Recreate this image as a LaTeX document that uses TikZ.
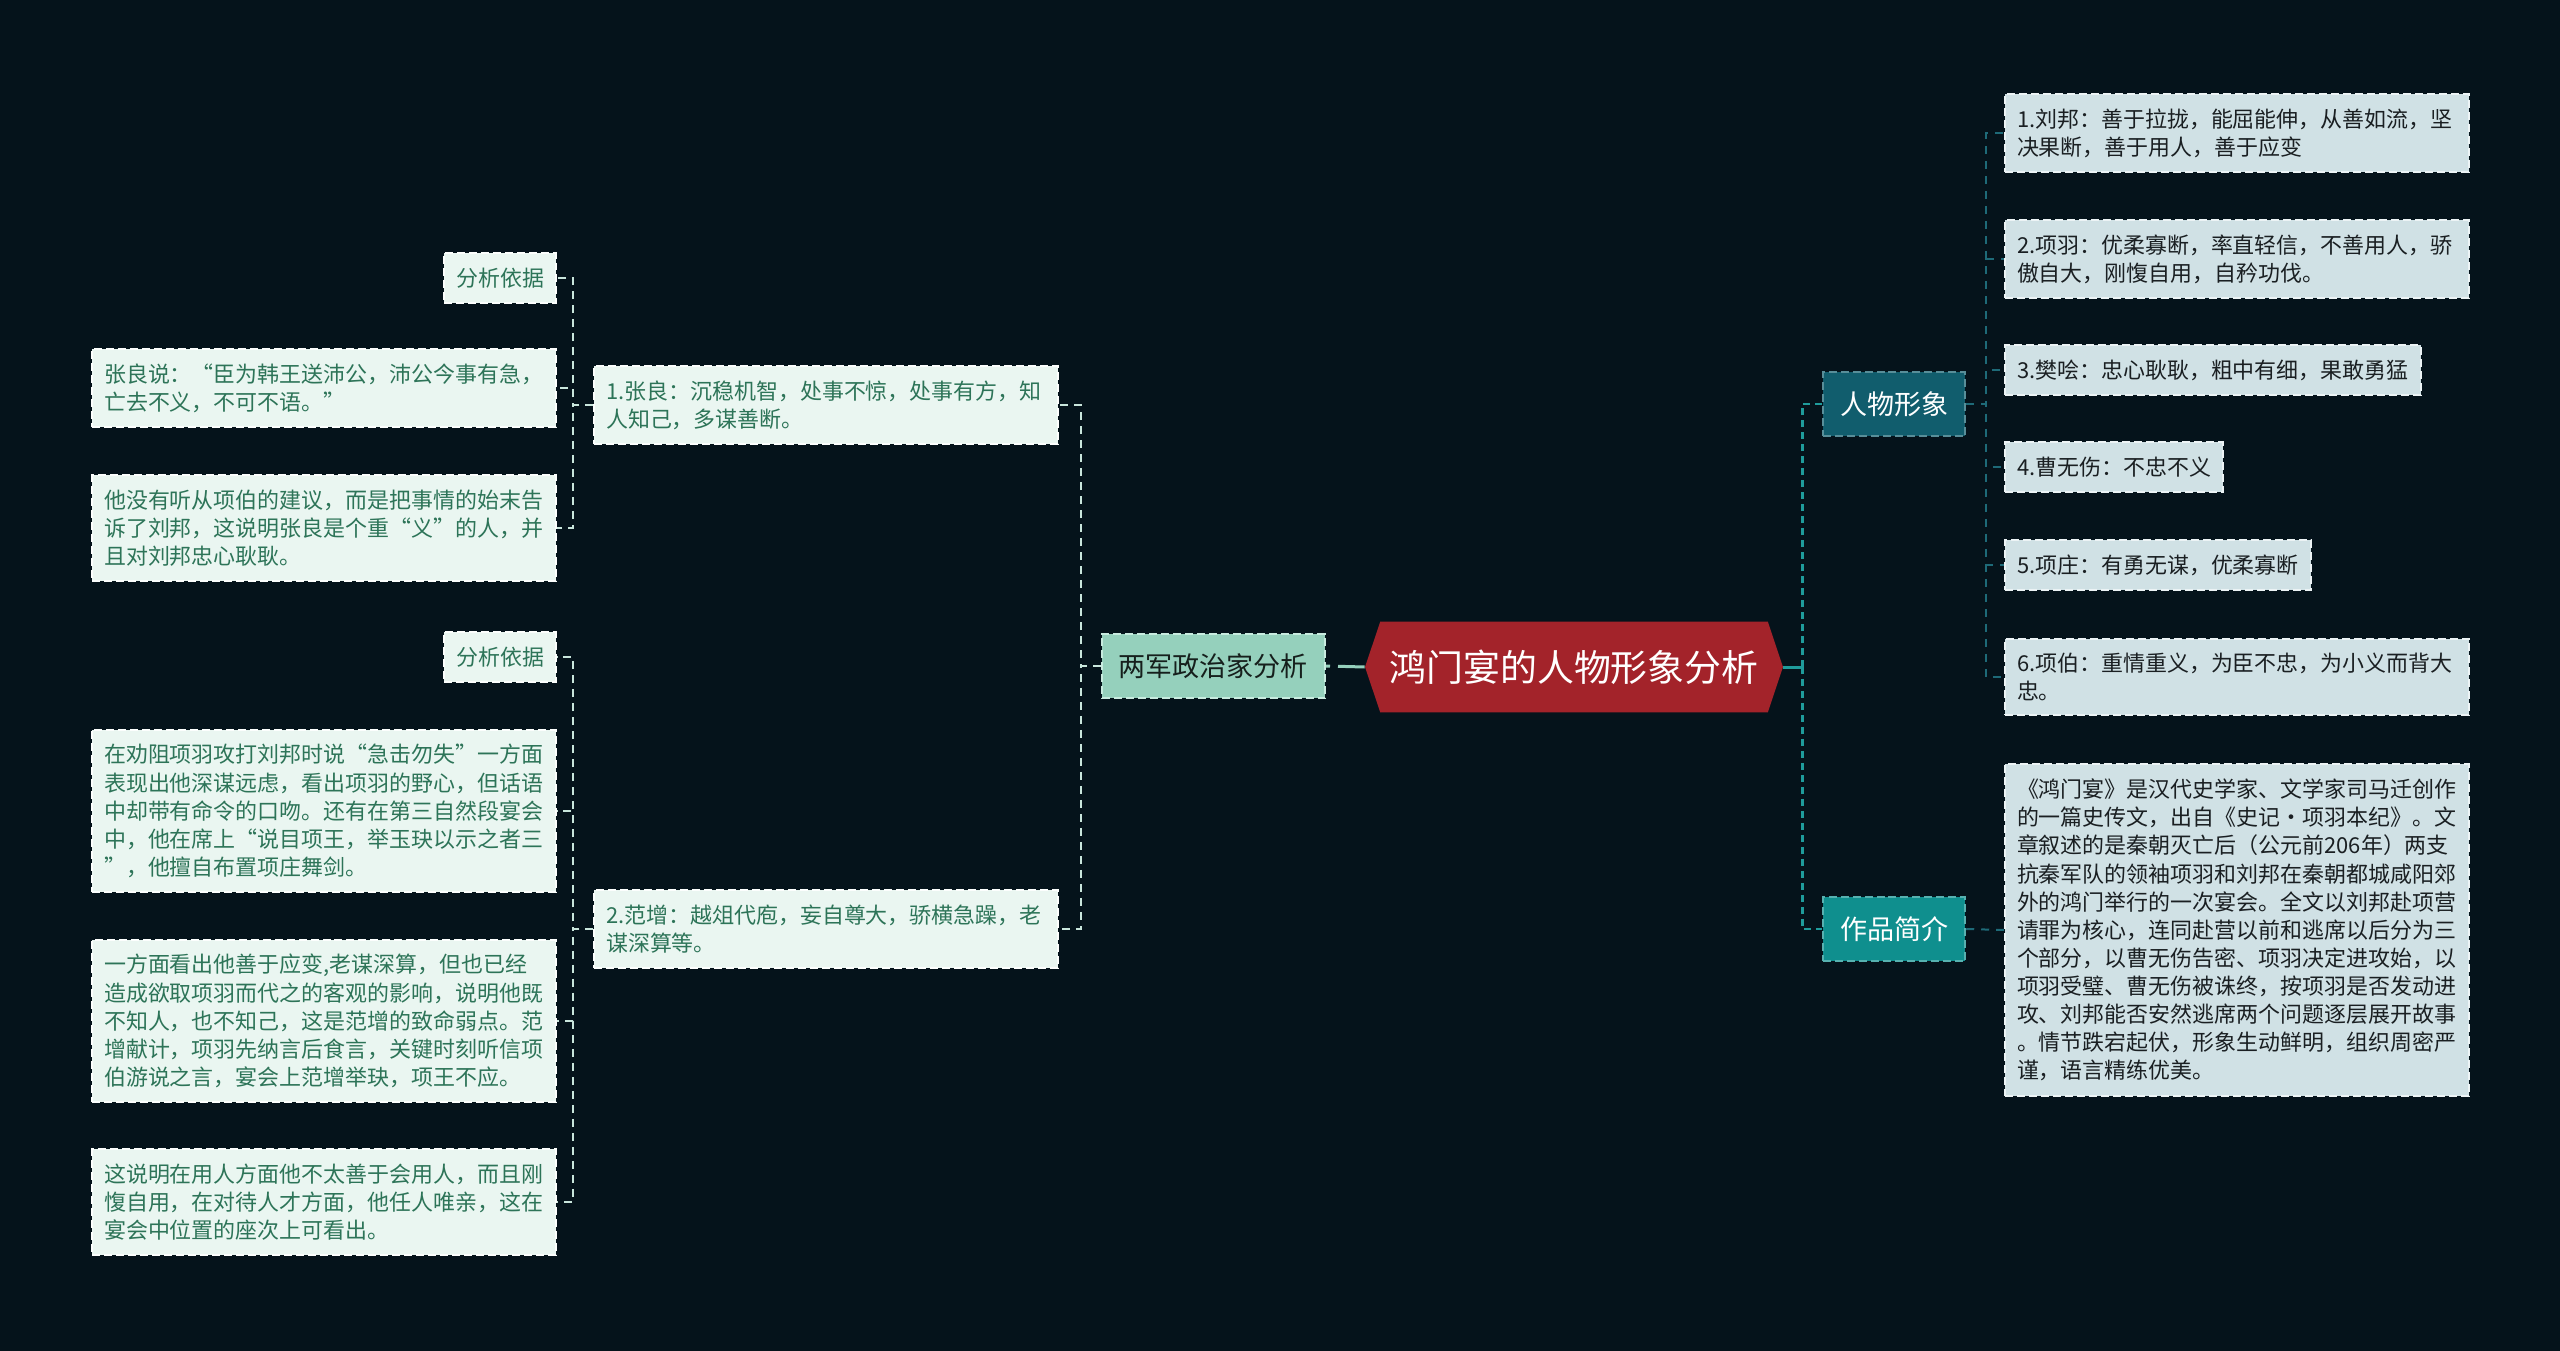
\documentclass[tikz,border=0pt]{standalone}
\usepackage{fontspec}
\newfontfamily\cjk{Noto Sans CJK SC}
\usetikzlibrary{positioning,shapes.symbols}

\definecolor{bgc}{HTML}{05131B}
\definecolor{hubred}{HTML}{A3232A}
\definecolor{mint}{HTML}{95D0BC}
\definecolor{mintbd}{HTML}{C8EBDF}
\definecolor{leafl}{HTML}{EAF6F1}
\definecolor{leafltx}{HTML}{2D7458}
\definecolor{tealdk}{HTML}{115D6D}
\definecolor{tealmd}{HTML}{0F8F8E}
\definecolor{leafr}{HTML}{D0E1E5}
\definecolor{leafrtx}{HTML}{1A1F22}
\definecolor{lline}{HTML}{C9E6DC}
\definecolor{rline}{HTML}{1F9C9C}
\definecolor{rsubline}{HTML}{1E6A78}

\begin{document}
\begin{tikzpicture}[x=0.02cm, y=-0.02cm,
  hub/.style={shape=signal, signal to=west and east, signal pointer angle=143,
              fill=hubred, text=white, font=\cjk\fontsize{21pt}{24pt}\selectfont,
              minimum width=8.36cm, minimum height=1.82cm, inner sep=0pt},
  topic/.style={rectangle, draw, line width=0.04cm, dash pattern=on 0.16cm off 0.08cm,
                font=\cjk\fontsize{15.4pt}{18pt}\selectfont,
                inner xsep=0.34cm, minimum height=1.3cm},
  lbox/.style={rectangle, draw=white!85!leafl, fill=leafl, text=leafltx,
               line width=0.04cm, dash pattern=on 0.16cm off 0.08cm,
               font=\cjk\fontsize{12.5pt}{16pt}\selectfont,
               inner xsep=0.24cm, inner ysep=0.29cm, align=left},
  rbox/.style={lbox, draw=white!60!leafr, fill=leafr, text=leafrtx},
  wide/.style={text width=8.8cm},
  lln/.style={draw=lline, line width=0.04cm, dash pattern=on 0.16cm off 0.12cm},
  rln/.style={draw=rline, line width=0.055cm, dash pattern=on 0.14cm off 0.1cm},
  rsub/.style={draw=rsubline, line width=0.04cm, dash pattern=on 0.16cm off 0.14cm}
]
\fill[bgc] (0,0) rectangle (2560,1351);
\useasboundingbox (0,0) rectangle (2560,1351);

\node[hub] (hub) at (1574,667) {鸿门宴的人物形象分析};

% left branch
\node[topic, fill=mint, draw=mintbd, text=black!85!mint, anchor=east] (ljz) at (1326,666) {两军政治家分析};
\node[lbox, wide, anchor=east] (zl) at (1059,405)
  {1.张良：沉稳机智，处事不惊，处事有方，知\\人知己，多谋善断。};
\node[lbox, wide, anchor=east] (fz) at (1059,929)
  {2.范增：越俎代庖，妄自尊大，骄横急躁，老\\谋深算等。};

\node[lbox, anchor=east] (zla) at (557,278) {分析依据};
\node[lbox, wide, anchor=east] (zlb) at (557,388)
  {张良说：“臣为韩王送沛公，沛公今事有急，\\亡去不义，不可不语。”};
\node[lbox, wide, anchor=east] (zlc) at (557,528)
  {他没有听从项伯的建议，而是把事情的始末告\\诉了刘邦，这说明张良是个重“义”的人，并\\且对刘邦忠心耿耿。};

\node[lbox, anchor=east] (fza) at (557,657) {分析依据};
\node[lbox, wide, anchor=east] (fzb) at (557,811)
  {在劝阻项羽攻打刘邦时说“急击勿失”一方面\\表现出他深谋远虑，看出项羽的野心，但话语\\中却带有命令的口吻。还有在第三自然段宴会\\中，他在席上“说目项王，举玉玦以示之者三\\”，他擅自布置项庄舞剑。};
\node[lbox, wide, anchor=east] (fzc) at (557,1021)
  {一方面看出他善于应变,老谋深算，但也已经\\造成欲取项羽而代之的客观的影响，说明他既\\不知人，也不知己，这是范增的致命弱点。范\\增献计，项羽先纳言后食言，关键时刻听信项\\伯游说之言，宴会上范增举玦，项王不应。};
\node[lbox, wide, anchor=east] (fzd) at (557,1202)
  {这说明在用人方面他不太善于会用人，而且刚\\愎自用，在对待人才方面，他任人唯亲，这在\\宴会中位置的座次上可看出。};

\draw[draw=mint, line width=0.06cm, dash pattern=on 0.08cm off 0.16cm on 2cm] (ljz.east) -- (hub.west);
\draw[lln] (ljz.west) -- ++(-20,0) |- (zl.east);
\draw[lln] (ljz.west) -- ++(-20,0) |- (fz.east);
\foreach \n in {zla,zlb,zlc}
  \draw[lln] (zl.west) -- ++(-20,0) |- (\n.east);
\foreach \n in {fza,fzb,fzc,fzd}
  \draw[lln] (fz.west) -- ++(-20,0) |- (\n.east);

% right branch
\node[topic, fill=tealdk, draw=tealdk!70!white, text=white, anchor=west] (rw) at (1822,404) {人物形象};
\node[topic, fill=tealmd, draw=tealmd!70!white, text=white, anchor=west] (zp) at (1822,929) {作品简介};

\node[rbox, wide, anchor=west] (lb) at (2004,133)
  {1.刘邦：善于拉拢，能屈能伸，从善如流，坚\\决果断，善于用人，善于应变};
\node[rbox, wide, anchor=west] (xy) at (2004,259)
  {2.项羽：优柔寡断，率直轻信，不善用人，骄\\傲自大，刚愎自用，自矜功伐。};
\node[rbox, anchor=west] (fk) at (2004,370) {3.樊哙：忠心耿耿，粗中有细，果敢勇猛};
\node[rbox, anchor=west] (cw) at (2004,467) {4.曹无伤：不忠不义};
\node[rbox, anchor=west] (xz) at (2004,565) {5.项庄：有勇无谋，优柔寡断};
\node[rbox, wide, anchor=west] (xb) at (2004,677)
  {6.项伯：重情重义，为臣不忠，为小义而背大\\忠。};
\node[rbox, wide, anchor=west] (jj) at (2004,930)
  {《鸿门宴》是汉代史学家、文学家司马迁创作\\的一篇史传文，出自《史记·项羽本纪》。文\\章叙述的是秦朝灭亡后（公元前206年）两支\\抗秦军队的领袖项羽和刘邦在秦朝都城咸阳郊\\外的鸿门举行的一次宴会。全文以刘邦赴项营\\请罪为核心，连同赴营以前和逃席以后分为三\\个部分，以曹无伤告密、项羽决定进攻始，以\\项羽受璧、曹无伤被诛终，按项羽是否发动进\\攻、刘邦能否安然逃席两个问题逐层展开故事\\。情节跌宕起伏，形象生动鲜明，组织周密严\\谨，语言精练优美。};

\draw[draw=rline, line width=0.06cm] (hub.east) -- ++(19,0) coordinate (rj);
\draw[rln] (rj) |- (rw.west);
\draw[rln] (rj) |- (zp.west);
\foreach \n in {lb,xy,fk,cw,xz,xb}
  \draw[rsub] (rw.east) -- ++(20,0) |- (\n.west);
\draw[rsub] (zp.east) -- (jj.west);
\end{tikzpicture}
\end{document}
